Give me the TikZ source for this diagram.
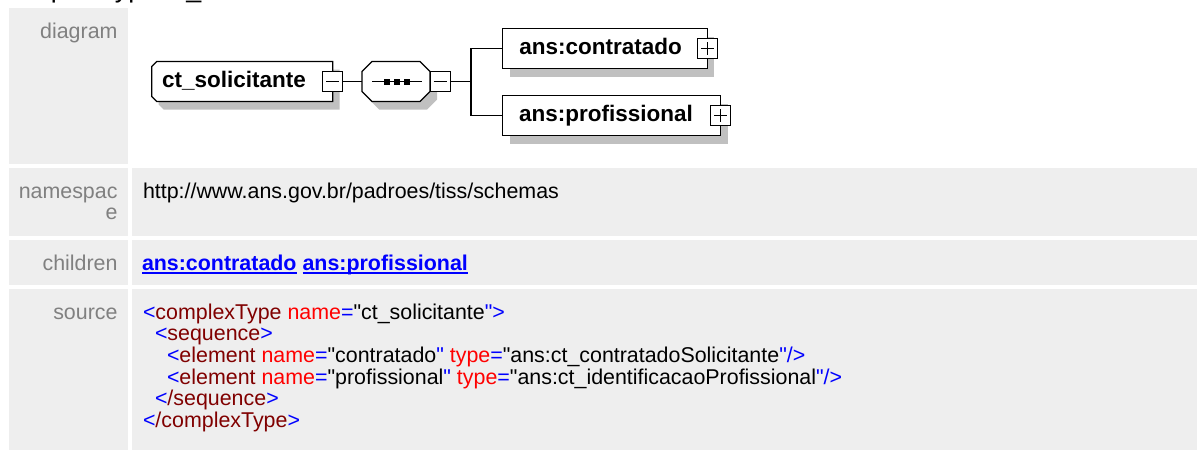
\documentclass[tikz,border=0pt]{standalone}
\usepackage{fontspec}
\setmainfont{Liberation Sans}[Ligatures=TeXOff]
\usetikzlibrary{calc}
\pgfdeclarelayer{bg}
\pgfsetlayers{bg,main}
\definecolor{cellgray}{HTML}{EEEEEE}
\definecolor{lblgray}{HTML}{808080}
\definecolor{xblue}{HTML}{0000FF}
\definecolor{xdred}{HTML}{800000}
\definecolor{xred}{HTML}{FF0000}
\definecolor{shadowc}{HTML}{C0C0C0}
\definecolor{linkblue}{HTML}{0000FF}
\newcommand{\lblfont}{\fontsize{21.4pt}{21.7pt}\selectfont}
\newcommand{\boxfont}{\fontsize{22.5pt}{24pt}\selectfont\bfseries}
\newcommand{\srcB}[1]{\textcolor{xblue}{#1}}
\newcommand{\srcD}[1]{\textcolor{xdred}{#1}}
\newcommand{\srcR}[1]{\textcolor{xred}{#1}}
\newcommand{\dqt}{\char34\relax}
\begin{document}
\begin{tikzpicture}[x=1pt,y=-1pt,
  cell/.style={fill=cellgray, draw=none},
  lbl/.style={font=\lblfont, text=lblgray, inner sep=0, outer sep=0, anchor=base east},
  txt/.style={font=\lblfont, text=black, inner sep=0, outer sep=0, anchor=base west},
  lnk/.style={font=\lblfont\bfseries, text=linkblue, inner sep=0, outer sep=0, anchor=base west, text depth=3pt},
  elem/.style={font=\boxfont, inner ysep=0, outer sep=0, text height=16.5pt, text depth=4.5pt, minimum height=40pt, align=left, anchor=west},
  elembox/.style={draw=black, fill=white, line width=1.3pt},
  outline/.style={draw=black, line width=1.3pt, fill=white},
  shade/.style={fill=shadowc, draw=none},
  conn/.style={draw=black, line width=1.3pt},
  seqbox/.style={minimum width=68pt, minimum height=40pt, inner sep=0, outer sep=0, anchor=west},
  pmbox/.style={draw=black, fill=white, line width=1pt, minimum size=20pt, inner sep=0, outer sep=0},
  minusbox/.style={pmbox, path picture={\draw[line width=1pt] ([xshift=3.5pt]path picture bounding box.west) -- ([xshift=-3.5pt]path picture bounding box.east);}},
  plusbox/.style={pmbox, path picture={\draw[line width=1pt] ([xshift=3.5pt]path picture bounding box.west) -- ([xshift=-3.5pt]path picture bounding box.east) ([yshift=-3.5pt]path picture bounding box.north) -- ([yshift=3.5pt]path picture bounding box.south);}},
]
\useasboundingbox (0,0) rectangle (1197,450);

% heading (cut off at the top)
\begin{scope}
\clip (0,0) rectangle (1197,450);
\node[font=\fontsize{26.8pt}{30pt}\selectfont, inner sep=0, anchor=base west] (head) at (0,-2.7) {complexType ct\_solicitante};
\end{scope}

% labels
\node[lbl] (ldiag) at (117.5,38) {diagram};
\node[lbl] (lns1) at (117.5,198) {namespac};
\node[lbl] (lns2) at (117.5,219.7) {e};
\node[lbl] (lchild) at (117.5,270) {children};
\node[lbl] (lsrc) at (117.5,319) {source};

% namespace
\node[txt] (ns) at (143,198) {http://www.ans.gov.br/padroes/tiss/schemas};

% children links
\node[lnk] (l1) at (142,270) {ans:contratado};
\node[lnk] (l2) at ($(l1.base east)+(6,0)$) {ans:profissional};
\draw[linkblue, line width=1.4pt] (l1.south west) -- (l1.south east);
\draw[linkblue, line width=1.4pt] (l2.south west) -- (l2.south east);

% source
\node[txt] (s1) at (143,319) {\srcB{<}\srcD{complexType} \srcR{name}\srcB{=}\dqt ct\_solicitante\srcB{\dqt>}};
\node[txt] (s2) at (155,340.7) {\srcB{<}\srcD{sequence}\srcB{>}};
\node[txt] (s3) at (167,362.4) {\srcB{<}\srcD{element} \srcR{name}\srcB{=}\dqt contratado\srcB{\dqt} \srcR{type}\srcB{=}\dqt ans:ct\_contratadoSolicitante\srcB{\dqt/>}};
\node[txt] (s4) at (167,384.1) {\srcB{<}\srcD{element} \srcR{name}\srcB{=}\dqt profissional\srcB{\dqt} \srcR{type}\srcB{=}\dqt ans:ct\_identificacaoProfissional\srcB{\dqt/>}};
\node[txt] (s5) at (155,405.8) {\srcB{<}\srcD{/sequence}\srcB{>}};
\node[txt] (s6) at (143,427.5) {\srcB{<}\srcD{/complexType}\srcB{>}};

% diagram nodes
\node[elem, text width=160.4pt, inner xsep=10.3pt] (ct) at (151.7,81.5) {ct\_solicitante};
\node[minusbox] (ctm) at (ct.east) {};
\node[seqbox] (seq) at (362,81.5) {};
\node[minusbox, anchor=west] (seqm) at (seq.east) {};
\node[elem, elembox, text width=171.4pt, inner xsep=16.6pt] (ctr) at (502.7,48.5) {ans:contratado};
\node[plusbox] (ctrp) at (ctr.east) {};
\node[elem, elembox, text width=185.2pt, inner xsep=16.4pt] (pro) at (502.7,115.5) {ans:profissional};
\node[plusbox] (prop) at (pro.east) {};

% sequence symbol
\draw[conn] ($(seq.center)+(-24,0)$) -- ($(seq.center)+(26,0)$);
\fill ($(seq.center)+(-12,-3)$) rectangle ++(6,6);
\fill ($(seq.center)+(-2,-3)$) rectangle ++(6,6);
\fill ($(seq.center)+(8,-3)$) rectangle ++(6,6);

% connectors
\draw[conn] (ctm.east) -- (seq.west);
\coordinate (br) at ($(seqm.east)+(21,0)$);
\draw[conn] (seqm.east) -- (br) |- (ctr.west);
\draw[conn] (br) |- (pro.west);

\begin{pgfonlayer}{bg}
  % table cells
  \fill[cell] (9,8) rectangle (128,164);
  \fill[cell] (9,168) rectangle (128,236);
  \fill[cell] (132,168) rectangle (1197,236);
  \fill[cell] (9,240) rectangle (128,285);
  \fill[cell] (132,240) rectangle (1197,285);
  \fill[cell] (9,289) rectangle (128,450);
  \fill[cell] (132,289) rectangle (1197,450);
  % shadows
  \fill[shade] ($(ct.north west)+(12,8)$) -- ($(ct.north east)+(7,8)$) -- ($(ct.south east)+(7,8)$) -- ($(ct.south west)+(12,8)$) -- ($(ct.south west)+(7,3)$) -- ($(ct.north west)+(7,13)$) -- cycle;
  \fill[shade] ($(seq.north west)+(17,8)$) -- ($(seq.north east)+(-3,8)$) -- ($(seq.north east)+(7,18)$) -- ($(seq.south east)+(7,-2)$) -- ($(seq.south east)+(-3,8)$) -- ($(seq.south west)+(17,8)$) -- ($(seq.south west)+(7,-2)$) -- ($(seq.north west)+(7,18)$) -- cycle;
  \fill[shade] ($(ctr.north west)+(7,8)$) rectangle ($(ctr.south east)+(7,8)$);
  \fill[shade] ($(pro.north west)+(7,8)$) rectangle ($(pro.south east)+(7,8)$);
  % outlines
  \draw[outline] ($(ct.north west)+(5,0)$) -- (ct.north east) -- (ct.south east) -- ($(ct.south west)+(5,0)$) -- ($(ct.south west)+(0,-5)$) -- ($(ct.north west)+(0,5)$) -- cycle;
  \draw[outline] ($(seq.north west)+(10,0)$) -- ($(seq.north east)+(-10,0)$) -- ($(seq.north east)+(0,10)$) -- ($(seq.south east)+(0,-10)$) -- ($(seq.south east)+(-10,0)$) -- ($(seq.south west)+(10,0)$) -- ($(seq.south west)+(0,-10)$) -- ($(seq.north west)+(0,10)$) -- cycle;
\end{pgfonlayer}
\end{tikzpicture}
\end{document}
